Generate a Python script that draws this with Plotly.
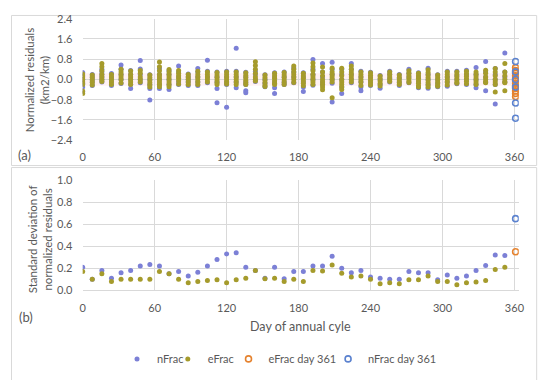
import plotly.graph_objects as go

# ---------------- data ----------------
days = list(range(0, 353, 8))          # 0, 8, ..., 352
day_last = 361

# (a) normalized residuals, per day
nfrac_res = [
    [0.28, 0.15, 0.0, -0.15, -0.3, -0.48],
    [0.2, 0.1, 0.0, -0.1, -0.24],
    [0.4, 0.3, 0.2, 0.1, 0.0, -0.1],
    [0.24, 0.1, 0.0, -0.1, -0.24],
    [0.57, 0.4, 0.2, 0.0, -0.16],
    [0.36, 0.2, 0.0, -0.2, -0.36],
    [0.75, 0.41, 0.2, 0.0, -0.13],
    [0.19, 0.0, -0.2, -0.36, -0.81],
    [0.43, 0.2, 0.0, -0.2, -0.36],
    [0.35, 0.2, 0.0, -0.2, -0.4],
    [0.53, 0.3, 0.1, -0.1, -0.2],
    [0.22, 0.1, 0.0, -0.1, -0.24],
    [0.43, 0.3, 0.1, -0.1, -0.24],
    [0.76, 0.33, 0.1, -0.13],
    [0.3, 0.1, -0.1, -0.36, -0.92],
    [0.33, 0.1, -0.1, -0.2, -1.1],
    [1.23, 0.33, 0.1, -0.1, -0.33],
    [0.29, 0.1, -0.1, -0.2, -0.44, -0.52],
    [0.33, 0.2, 0.0, -0.08],
    [0.19, 0.0, -0.15, -0.29],
    [0.27, 0.1, -0.1, -0.33, -0.55],
    [0.3, 0.1, -0.1, -0.2],
    [0.45, 0.3, 0.1, -0.13],
    [0.27, 0.1, -0.1, -0.3, -0.47],
    [0.79, 0.4, 0.2, 0.0, -0.23],
    [0.63, 0.3, 0.1, -0.1, -0.2],
    [0.68, 0.4, 0.2, 0.0, -0.15, -0.89],
    [0.4, 0.2, 0.0, -0.3, -0.55],
    [0.63, 0.4, 0.2, 0.0, -0.13],
    [0.33, 0.1, -0.1, -0.3, -0.44],
    [0.29, 0.1, -0.1, -0.24],
    [0.16, 0.0, -0.2, -0.35],
    [0.33, 0.2, 0.05, -0.1],
    [0.2, 0.05, -0.1, -0.24],
    [0.4, 0.25, 0.1, -0.13],
    [0.27, 0.1, -0.1, -0.33],
    [0.44, 0.2, 0.0, -0.2, -0.35],
    [0.19, 0.0, -0.15, -0.29],
    [0.33, 0.1, -0.1, -0.27],
    [0.33, 0.15, 0.0, -0.17],
    [0.37, 0.2, 0.0, -0.2],
    [0.47, 0.2, 0.0, -0.2, -0.33],
    [0.71, 0.3, 0.1, -0.1, -0.44],
    [0.43, 0.2, 0.0, -0.2, -0.97],
    [1.05, 0.3, 0.1, -0.1],
]
efrac_res = [
    [0.22, 0.1, 0.0, -0.1, -0.2, -0.45, -0.55],
    [0.18, 0.08, -0.02, -0.12, -0.22],
    [0.63, 0.5, 0.35, 0.2, 0.1, 0.0, -0.08],
    [0.2, 0.1, 0.0, -0.1, -0.2],
    [0.4, 0.3, 0.2, 0.1, 0.0, -0.14],
    [0.34, 0.2, 0.1, 0.0, -0.1, -0.2],
    [0.36, 0.25, 0.1, 0.0, -0.1],
    [0.18, 0.08, -0.02, -0.12, -0.22, -0.3],
    [0.69, 0.5, 0.35, 0.2, 0.1, 0.0, -0.1, -0.2, -0.29],
    [0.39, 0.3, 0.2, 0.1, 0.0, -0.1, -0.2, -0.29],
    [0.36, 0.25, 0.15, 0.05, -0.05, -0.18],
    [0.2, 0.1, 0.0, -0.1, -0.2],
    [0.33, 0.2, 0.1, 0.0, -0.1, -0.2],
    [0.3, 0.2, 0.1, 0.0, -0.1],
    [0.28, 0.18, 0.08, -0.02, -0.12, -0.2],
    [0.3, 0.2, 0.1, 0.0, -0.1, -0.18],
    [0.3, 0.2, 0.1, 0.0, -0.1, -0.2],
    [0.27, 0.17, 0.07, -0.03, -0.13, -0.2],
    [0.7, 0.55, 0.4, 0.25, 0.1, 0.0, -0.06],
    [0.18, 0.08, -0.02, -0.12, -0.22, -0.28],
    [0.25, 0.15, 0.05, -0.05, -0.15, -0.2],
    [0.28, 0.18, 0.08, -0.02, -0.12, -0.2],
    [0.53, 0.4, 0.3, 0.2, 0.1, 0.0, -0.12],
    [0.25, 0.15, 0.05, -0.05, -0.15, -0.25],
    [0.65, 0.5, 0.35, 0.2, 0.1, 0.0, -0.1, -0.2],
    [0.49, 0.3, 0.15, 0.0, -0.1, -0.2, -0.3, -0.41],
    [0.45, 0.3, 0.2, 0.1, 0.0, -0.1, -0.72],
    [0.44, 0.3, 0.15, 0.0, -0.1, -0.2, -0.3, -0.4],
    [0.53, 0.4, 0.3, 0.2, 0.1, 0.0, -0.1],
    [0.3, 0.2, 0.1, 0.0, -0.1, -0.24],
    [0.27, 0.17, 0.07, -0.03, -0.13, -0.22],
    [0.14, 0.04, -0.06, -0.16, -0.26],
    [0.3, 0.2, 0.1, 0.0, -0.08],
    [0.18, 0.08, -0.02, -0.12, -0.2],
    [0.35, 0.25, 0.15, 0.05, -0.05, -0.12],
    [0.25, 0.15, 0.05, -0.05, -0.15, -0.25, -0.3],
    [0.38, 0.28, 0.18, 0.08, -0.02, -0.12, -0.22, -0.3],
    [0.18, 0.08, -0.02, -0.12, -0.22, -0.27],
    [0.3, 0.2, 0.1, 0.0, -0.1, -0.22],
    [0.3, 0.2, 0.1, 0.0, -0.1, -0.15],
    [0.33, 0.23, 0.13, 0.03, -0.07, -0.17],
    [0.3, 0.2, 0.1, 0.0, -0.1, -0.2],
    [0.37, 0.25, 0.1, 0.0, -0.1, -0.13],
    [0.43, 0.3, 0.15, 0.0, -0.1, -0.2, -0.49],
    [0.63, 0.3, 0.15, 0.0, -0.1, -0.13, -0.44],
]
nfrac_res_361 = [0.71, 0.3, 0.0, -0.3, -0.93, -1.53]
efrac_res_361 = [0.47, 0.35, 0.25, 0.15, 0.05, -0.05, -0.15, -0.25, -0.35, -0.45, -0.55, -0.67]

# (b) standard deviation of normalized residuals
nfrac_sd = [0.21, 0.10, 0.18, 0.11, 0.16, 0.18, 0.22, 0.235, 0.22, 0.15,
            0.17, 0.13, 0.165, 0.22, 0.28, 0.33, 0.34, 0.21, 0.18, 0.11,
            0.21, 0.105, 0.17, 0.17, 0.22, 0.22, 0.31, 0.20, 0.16, 0.18,
            0.12, 0.11, 0.10, 0.10, 0.17, 0.16, 0.16, 0.095, 0.14, 0.11,
            0.13, 0.18, 0.225, 0.32, 0.315]
efrac_sd = [0.17, 0.10, 0.15, 0.08, 0.10, 0.10, 0.10, 0.10, 0.17, 0.15,
            0.10, 0.07, 0.08, 0.09, 0.095, 0.07, 0.095, 0.11, 0.18, 0.105,
            0.11, 0.08, 0.10, 0.08, 0.18, 0.175, 0.23, 0.155, 0.12, 0.13,
            0.10, 0.06, 0.07, 0.06, 0.095, 0.095, 0.13, 0.08, 0.08, 0.05,
            0.07, 0.075, 0.09, 0.19, 0.21]
nfrac_sd_361 = 0.65
efrac_sd_361 = 0.35

x_ticks = [0, 60, 120, 180, 240, 300, 360]

# ---------------- styling ----------------
C_N = "#7c80d6"
C_E = "#a59b2c"
C_EO = "#e5822e"
C_NO = "#5b82cf"
FONT = "Lato"
TXT = "#595959"
GRID = "#d9d9d9"

W, H = 550, 380
# page-to-figure compensation (screen px -> figure px)
def fx(sx):
    return (sx - 10.0) / 0.988
def fy(sy):
    return (sy - 16.3) / 0.954
def px(sx):
    return fx(sx) / W
def py(sy):
    return 1 - fy(sy) / H

def flat(day_list, vals):
    xs, ys = [], []
    for d, v in zip(day_list, vals):
        for y in v:
            xs.append(d)
            ys.append(y)
    return xs, ys

nx, ny = flat(days, nfrac_res)
ex, ey = flat(days, efrac_res)

hollow_e = dict(color="rgba(0,0,0,0)", size=6, line=dict(color=C_EO, width=1.6))
hollow_n = dict(color="rgba(0,0,0,0)", size=6, line=dict(color=C_NO, width=1.6))

fig = go.Figure()
# top panel
fig.add_trace(go.Scatter(x=nx, y=ny, mode="markers", name="nFrac", showlegend=False,
                         marker=dict(color=C_N, size=5), xaxis="x", yaxis="y"))
fig.add_trace(go.Scatter(x=ex, y=ey, mode="markers", name="eFrac", showlegend=False,
                         marker=dict(color=C_E, size=5), xaxis="x", yaxis="y"))
fig.add_trace(go.Scatter(x=[day_last] * len(efrac_res_361), y=efrac_res_361, mode="markers",
                         name="eFrac day 361", showlegend=False, marker=hollow_e,
                         xaxis="x", yaxis="y"))
fig.add_trace(go.Scatter(x=[day_last] * len(nfrac_res_361), y=nfrac_res_361, mode="markers",
                         name="nFrac day 361", showlegend=False, marker=hollow_n,
                         xaxis="x", yaxis="y"))
# bottom panel
fig.add_trace(go.Scatter(x=days, y=nfrac_sd, mode="markers", name="nFrac",
                         marker=dict(color=C_N, size=5), xaxis="x2", yaxis="y2", legend="legend"))
fig.add_trace(go.Scatter(x=days, y=efrac_sd, mode="markers", name="eFrac",
                         marker=dict(color=C_E, size=5), xaxis="x2", yaxis="y2", legend="legend2"))
fig.add_trace(go.Scatter(x=[day_last], y=[efrac_sd_361], mode="markers", name="eFrac day 361",
                         marker=hollow_e, xaxis="x2", yaxis="y2", legend="legend3"))
fig.add_trace(go.Scatter(x=[day_last], y=[nfrac_sd_361], mode="markers", name="nFrac day 361",
                         marker=hollow_n, xaxis="x2", yaxis="y2", legend="legend4"))

xd = [px(82), px(520)]
xr = [0, 363.6]
axis_common = dict(showgrid=True, gridcolor=GRID, gridwidth=1, zeroline=False,
                   tickfont=dict(family=FONT, size=11, color=TXT), showline=False,
                   ticks="outside", ticklen=7, tickcolor="rgba(0,0,0,0)")

def leg(text_start_sx):
    return dict(orientation="h", x=px(text_start_sx) - 40 / W, xanchor="left",
                y=py(356), yanchor="middle", font=dict(family=FONT, size=11, color=TXT),
                itemwidth=30, bgcolor="rgba(0,0,0,0)", borderwidth=0)

fig.update_layout(
    width=W, height=H,
    margin=dict(l=0, r=0, t=0, b=0),
    paper_bgcolor="white", plot_bgcolor="white",
    font=dict(family=FONT, color=TXT),
    xaxis=dict(domain=xd, range=xr, tickvals=x_ticks, anchor="y", **axis_common),
    yaxis=dict(domain=[py(140), py(20)], range=[-2.4, 2.4],
               tickvals=[-2.4, -1.6, -0.8, 0.0, 0.8, 1.6, 2.4], tickformat=".1f",
               anchor="x", **axis_common),
    xaxis2=dict(domain=xd, range=xr, tickvals=x_ticks, anchor="y2", **axis_common),
    yaxis2=dict(domain=[py(288.3), py(179.3)], range=[0, 1.0], dtick=0.2,
                tickformat=".1f", anchor="x2", **axis_common),
    legend=leg(156), legend2=leg(207), legend3=leg(268), legend4=leg(368),
    showlegend=True,
)
fig.layout.xaxis2.showline = True
fig.layout.xaxis2.linecolor = GRID

shapes = [
    # chart borders
    dict(type="rect", xref="paper", yref="paper", x0=0.5 / W, x1=px(538), y0=py(165), y1=1 - 0.5 / H,
         line=dict(color="#d9d9d9", width=1), layer="below"),
    dict(type="rect", xref="paper", yref="paper", x0=0.5 / W, x1=px(538), y0=0.5 / H, y1=py(167),
         line=dict(color="#d9d9d9", width=1), layer="below"),
    # faint band and zero line in panel a
    dict(type="rect", xref="x domain", yref="y", x0=0, x1=1, y0=-0.25, y1=0.25,
         fillcolor="rgba(255,182,193,0.18)", line=dict(width=0), layer="below"),
    dict(type="line", xref="x domain", yref="y", x0=0, x1=1, y0=0, y1=0,
         line=dict(color="rgba(240,150,110,0.6)", width=1), layer="below"),
]
fig.update_layout(shapes=shapes)

ann = [
    dict(text="Normalized residuals<br>(km2/km)", x=px(37), y=py(80), textangle=-90,
         font=dict(family=FONT, size=11.5, color=TXT)),
    dict(text="Standard deviation of<br>normalized residuals", x=px(40), y=py(238), textangle=-90,
         font=dict(family=FONT, size=11.5, color=TXT)),
    dict(text="(a)", x=px(24), y=py(155), font=dict(family=FONT, size=13, color=TXT)),
    dict(text="(b)", x=px(25), y=py(315), font=dict(family=FONT, size=13, color=TXT)),
    dict(text="Day of annual cyle", x=px(301), y=py(324), font=dict(family=FONT, size=12.5, color=TXT)),
]
for a in ann:
    a.update(xref="paper", yref="paper", showarrow=False, xanchor="center", yanchor="middle")
fig.update_layout(annotations=ann)

fig.write_html("out.html")
